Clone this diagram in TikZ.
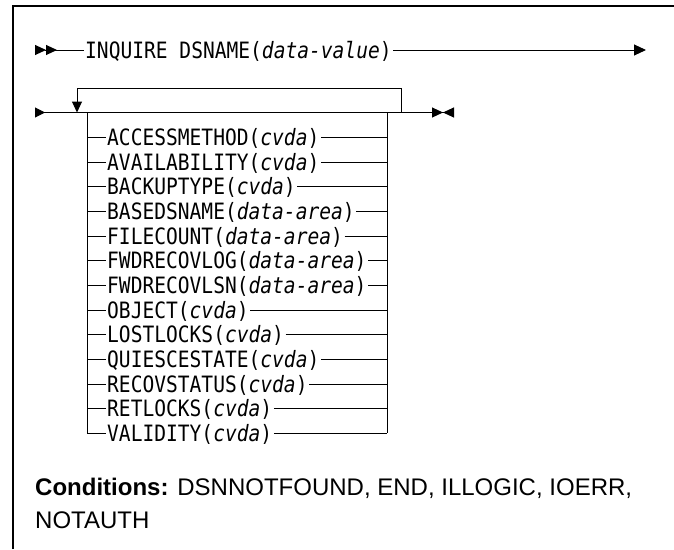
\documentclass[tikz,border=0pt]{standalone}
\usepackage{fontspec}
\newfontfamily\synfont{DejaVu Sans Mono}[FakeStretch=0.87]
\newfontfamily\condfont{Liberation Sans}
\usetikzlibrary{arrows.meta,positioning}

\begin{document}
\begin{tikzpicture}[
  x=1pt,y=-1pt,
  frame/.style={line width=1.2pt},
  synline/.style={line width=1pt},
  kw/.style={font=\synfont\fontsize{22.5}{25}\selectfont,anchor=west,
    inner xsep=1.5pt,inner ysep=0pt,text height=16pt,text depth=0pt},
  begin2/.style={{Triangle[reversed,length=11pt,width=10pt]Triangle[reversed,length=11pt,width=10pt]}-},
  goon/.style={-{Triangle[length=12pt,width=11pt]}},
  down/.style={-{Triangle[length=11pt,width=10pt]}},
  mainline/.style={{Triangle[reversed,length=10pt,width=10pt]}-{Triangle[length=11pt,width=10pt]Triangle[reversed,length=11pt,width=10pt]}}
]
  \useasboundingbox (0,0) rectangle (674,549);
  \draw[frame] (13,549) -- (13,6) -- (674,6);

  % first line
  \coordinate (s1) at (35,50);
  \coordinate (e1) at (646,50);
  \node[kw] (inq) at (83.5,50) {INQUIRE DSNAME(\textit{data-value})};
  \draw[synline,begin2] (s1) -- (inq.west);
  \draw[synline,goon] (inq.east) -- (e1);

  % second line with repeat loop
  \coordinate (s2) at (35,112.5);
  \coordinate (e2) at (454,112.5);
  \coordinate (lp) at (401,112.5);
  \coordinate (ld) at (77,112.5);
  \coordinate (bl0) at (87,112.5);
  \coordinate (br0) at (387,112.5);
  \draw[synline,mainline] (s2) -- (e2);
  \draw[synline,down] (lp) -- ++(0,-24.5) -| (ld);

  % options
  \foreach \name [count=\i] in {
    {ACCESSMETHOD(\textit{cvda})},
    {AVAILABILITY(\textit{cvda})},
    {BACKUPTYPE(\textit{cvda})},
    {BASEDSNAME(\textit{data-area})},
    {FILECOUNT(\textit{data-area})},
    {FWDRECOVLOG(\textit{data-area})},
    {FWDRECOVLSN(\textit{data-area})},
    {OBJECT(\textit{cvda})},
    {LOSTLOCKS(\textit{cvda})},
    {QUIESCESTATE(\textit{cvda})},
    {RECOVSTATUS(\textit{cvda})},
    {RETLOCKS(\textit{cvda})},
    {VALIDITY(\textit{cvda})}} {
    \pgfmathsetmacro\ry{137.5+24.65*(\i-1)}
    \coordinate (bl\i) at (87,\ry);
    \coordinate (br\i) at (387,\ry);
    \node[kw] (opt\i) at (105.5,\ry) {\name};
    \draw[synline] (bl\i) -- (opt\i.west);
    \draw[synline] (opt\i.east) -- (br\i);
  }
  \draw[synline] (bl0) -- (bl13);
  \draw[synline] (br0) -- (br13);

  % conditions
  \node[font=\condfont\fontsize{24}{33}\selectfont,align=left,anchor=base west,inner sep=0pt] (cond) at (35,528) {%
    \textbf{Conditions:} DSNNOTFOUND, END, ILLOGIC, IOERR,\\NOTAUTH};
\end{tikzpicture}
\end{document}
